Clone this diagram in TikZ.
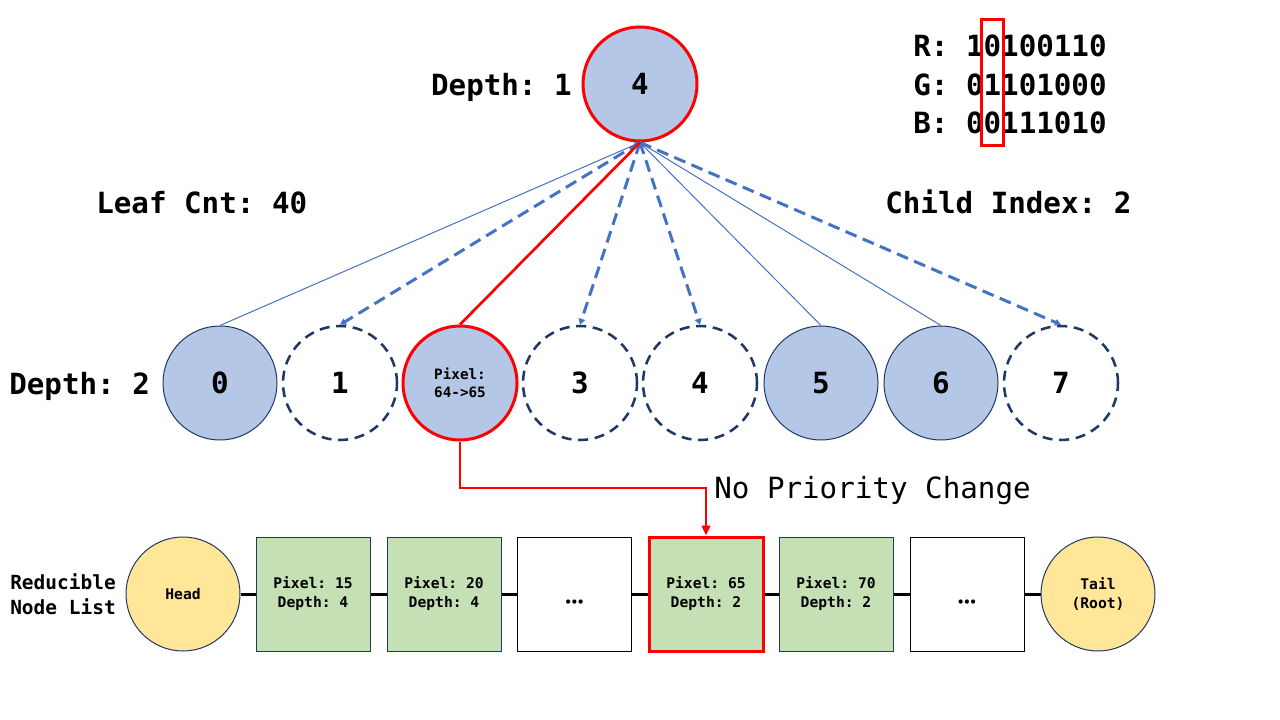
\documentclass[tikz,border=0pt]{standalone}
\usepackage{fontspec}
\setmainfont{DejaVu Sans Mono}
\usetikzlibrary{arrows.meta}
\definecolor{nodeblue}{HTML}{B4C7E7}
\definecolor{edgeblue}{HTML}{4472C4}
\definecolor{navy}{HTML}{1F3864}
\definecolor{lgreen}{HTML}{C5E0B4}
\definecolor{lyellow}{HTML}{FFE699}
\definecolor{pred}{HTML}{FF0000}
\frenchspacing
\newcommand{\mydots}{\raisebox{-9.4pt}[0pt][0pt]{\fontsize{9}{10}\selectfont\textbullet\kern-0.8pt\textbullet\kern-0.8pt\textbullet}}
\begin{document}
\begin{tikzpicture}[x=0.75pt,y=-0.75pt,
  bigfont/.style={font=\fontsize{21.9}{26}\selectfont\bfseries},
  lbl/.style={bigfont, inner sep=0pt},
  tnode/.style={circle, minimum size=85.5pt, inner sep=0pt, bigfont},
  filled/.style={tnode, fill=nodeblue, draw=navy, line width=0.75pt},
  emptyc/.style={tnode, draw=navy, line width=1.9pt, dash pattern=on 7.5pt off 5pt},
  hot/.style={tnode, fill=nodeblue, draw=pred, line width=2.25pt},
  lfont/.style={font=\fontsize{11}{14.25}\selectfont\bfseries, align=center},
  lbox/.style={rectangle, minimum width=85.5pt, minimum height=85.5pt, inner sep=0pt, lfont},
  gbox/.style={lbox, fill=lgreen, draw=navy, line width=0.75pt},
  wbox/.style={lbox, fill=white, draw=black, line width=0.75pt},
  ycirc/.style={circle, minimum size=85.5pt, inner sep=0pt, lfont, fill=lyellow, draw=navy, line width=0.75pt},
  thinedge/.style={edgeblue, line width=0.75pt, {Triangle[length=4pt,width=4pt]}-},
  dashedge/.style={edgeblue, line width=2.25pt, dash pattern=on 9pt off 5pt, -{Triangle[length=4.5pt,width=5pt]}},
  listline/.style={black, line width=2.25pt}
]
\useasboundingbox (0,0) rectangle (1280,720);

% root
\node[hot] (root) at (640,84) {4};
\node[lbl, anchor=base east] (d1) at (572,95.5) {Depth: 1};

% RGB bits
\node[lbl, anchor=base west] (rr) at (913,56.5) {R: 10100110};
\node[lbl, anchor=base west] (gg) at (913,95.5) {G: 01101000};
\node[lbl, anchor=base west] (bb) at (913,133.5) {B: 00111010};
\node[draw=pred, line width=2.25pt, minimum width=16.5pt, minimum height=94.5pt, inner sep=0pt] (hl) at (992,83) {};

\node[lbl, anchor=base west] (leaf) at (96,214) {Leaf Cnt: 40};
\node[lbl, anchor=base west] (cidx) at (885,214) {Child Index: 2};

% children
\node[lbl, anchor=base west] (d2) at (9,394) {Depth: 2};
\node[filled] (c0) at (220,383) {0};
\node[emptyc] (c1) at (340,383) {1};
\node[hot, font=\fontsize{10.7}{13.5}\selectfont\bfseries, align=center] (c2) at (460,383) {Pixel:\\64->65};
\node[emptyc] (c3) at (580,383) {3};
\node[emptyc] (c4) at (700,383) {4};
\node[filled] (c5) at (821,383) {5};
\node[filled] (c6) at (941,383) {6};
\node[emptyc] (c7) at (1061,383) {7};

% tree edges
\draw[thinedge] (root.south) -- (c0.north);
\draw[thinedge] (root.south) -- (c5.north);
\draw[thinedge] (root.south) -- (c6.north);
\draw[dashedge] (root.south) -- (c1.north);
\draw[dashedge] (root.south) -- (c3.north);
\draw[dashedge] (root.south) -- (c4.north);
\draw[dashedge] (root.south) -- (c7.north);
\draw[pred, line width=2pt] (root.south) -- (c2.north);

% list
\node[font=\fontsize{14.6}{18.75}\selectfont\bfseries, align=left, inner sep=0pt, anchor=west] (rnl) at (10,594) {Reducible\\Node List};
\node[ycirc] (l0) at (183,594) {Head};
\node[gbox] (l1) at (313,594) {Pixel: 15\\Depth: 4};
\node[gbox] (l2) at (444,594) {Pixel: 20\\Depth: 4};
\node[wbox] (l3) at (574.5,594) {\mydots};
\node[lbox, fill=lgreen, draw=pred, line width=2.25pt] (l4) at (706,594) {Pixel: 65\\Depth: 2};
\node[gbox] (l5) at (836,594) {Pixel: 70\\Depth: 2};
\node[wbox] (l6) at (967,594) {\mydots};
\node[ycirc] (l7) at (1098,594) {Tail\\(Root)};
\draw[listline] (l0) -- (l1);
\draw[listline] (l1) -- (l2);
\draw[listline] (l2) -- (l3);
\draw[listline] (l3) -- (l4);
\draw[listline] (l4) -- (l5);
\draw[listline] (l5) -- (l6);
\draw[listline] (l6) -- (l7);

% priority connector
\coordinate (bend) at (706,488);
\draw[pred, line width=1.8pt, -{Triangle[length=7.5pt,width=6.5pt]}] (c2.south) |- (bend) -- (l4.north);
\node[font=\fontsize{21.9}{26}\selectfont, inner sep=0pt, anchor=base west] (npc) at (714,498) {No Priority Change};
\end{tikzpicture}
\end{document}
